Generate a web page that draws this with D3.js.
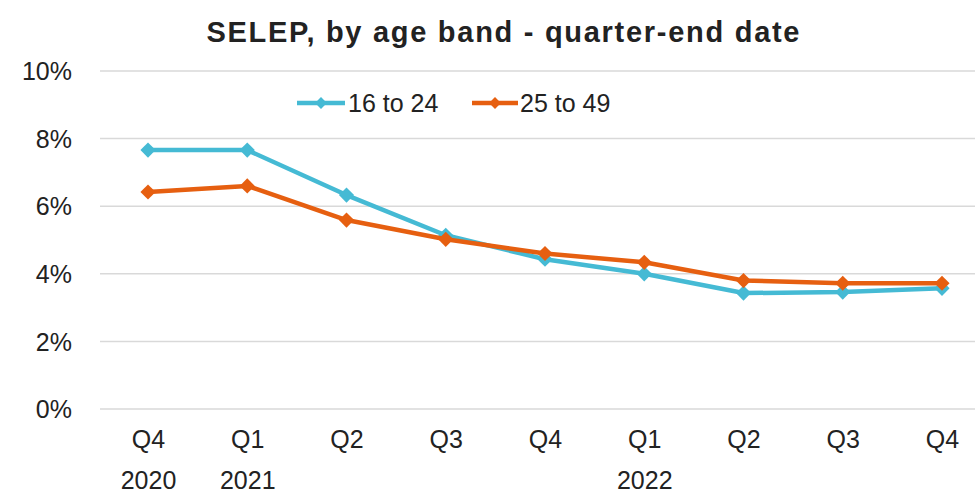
<!DOCTYPE html>
<html><head><meta charset="utf-8">
<script src="https://cdn.jsdelivr.net/npm/d3@7"></script>
<style>
html,body{margin:0;padding:0;background:#fff;}
svg{display:block;}
text{font-family:"Liberation Sans",Arial,sans-serif;fill:#222;}
</style></head>
<body><svg id="c" width="975" height="496"></svg>
<script>
const quarters = ["Q4","Q1","Q2","Q3","Q4","Q1","Q2","Q3","Q4"];
const years = ["2020","2021","","","","2022","","",""];
const seriesNames = ["16 to 24","25 to 49"];
const s16to24 = [7.66,7.66,6.33,5.14,4.43,4.0,3.43,3.46,3.57];
const s25to49 = [6.42,6.6,5.59,5.02,4.6,4.34,3.8,3.72,3.72];
const yTicks = [0,2,4,6,8,10];
const colors = ["#45BAD4","#E65F10"];
const FONT = '"Liberation Sans",Arial,sans-serif';

const svg = d3.select("#c");
const idx = quarters.map((d,i)=>i);
const x = d3.scalePoint().domain(idx).range([148,942]);
const y = d3.scaleLinear().domain([0,10]).range([409,71]);

// gridlines
svg.append("g").selectAll("line").data(yTicks).join("line")
  .attr("x1",100).attr("x2",975)
  .attr("y1",d=>y(d)).attr("y2",d=>y(d))
  .attr("stroke","#d9d9d9").attr("stroke-width",1.5);

// y axis labels
const yAxis = d3.axisLeft(y).tickValues(yTicks).tickFormat(d=>d+"%").tickSize(0).tickPadding(0);
const ya = svg.append("g").attr("transform","translate(72,0)").call(yAxis);
ya.select(".domain").remove();
ya.selectAll("text").attr("font-size",25).attr("fill","#222").attr("dy","0.35em").style("font-family",FONT);

// x axis labels
const xAxis = d3.axisBottom(x).tickFormat(i=>quarters[i]).tickSize(0).tickPadding(0);
const xa = svg.append("g").attr("transform","translate(0,430)").call(xAxis);
xa.select(".domain").remove();
xa.selectAll("text").attr("font-size",25).attr("fill","#222").attr("dy","0.71em").style("font-family",FONT);
xa.selectAll(".tick").append("text").text(i=>years[i])
  .attr("y",41).attr("dy","0.71em").attr("font-size",25).attr("fill","#222")
  .attr("text-anchor","middle").style("font-family",FONT);

// title
svg.append("text").attr("x",503).attr("y",42).attr("text-anchor","middle")
  .attr("font-size",29).attr("font-weight","bold").attr("fill","#111")
  .attr("textLength",593).attr("lengthAdjust","spacing")
  .text("SELEP, by age band - quarter-end date");

const line = d3.line().x((d,i)=>x(i)).y(d=>y(d));

[s16to24,s25to49].forEach((s,k)=>{
  svg.append("path").datum(s).attr("d",line).attr("fill","none")
    .attr("stroke",colors[k]).attr("stroke-width",4.5).attr("stroke-linejoin","round");
  svg.append("g").selectAll("path").data(s).join("path")
    .attr("d",d3.symbol().type(d3.symbolSquare).size(115))
    .attr("transform",(d,i)=>`translate(${x(i)},${y(d)}) rotate(45)`)
    .attr("fill",colors[k]);
});

// legend
const legend = [{name:seriesNames[0],x1:297,x2:345,tx:348},{name:seriesNames[1],x1:472,x2:518,tx:520}];
legend.forEach((l,k)=>{
  const g = svg.append("g");
  g.append("line").attr("x1",l.x1).attr("x2",l.x2).attr("y1",103).attr("y2",103)
    .attr("stroke",colors[k]).attr("stroke-width",4.5);
  g.append("path").attr("d",d3.symbol().type(d3.symbolSquare).size(70))
    .attr("transform",`translate(${(l.x1+l.x2)/2},103) rotate(45)`).attr("fill",colors[k]);
  g.append("text").attr("x",l.tx).attr("y",103).attr("dy","0.35em")
    .attr("font-size",25).text(l.name);
});
</script></body></html>
